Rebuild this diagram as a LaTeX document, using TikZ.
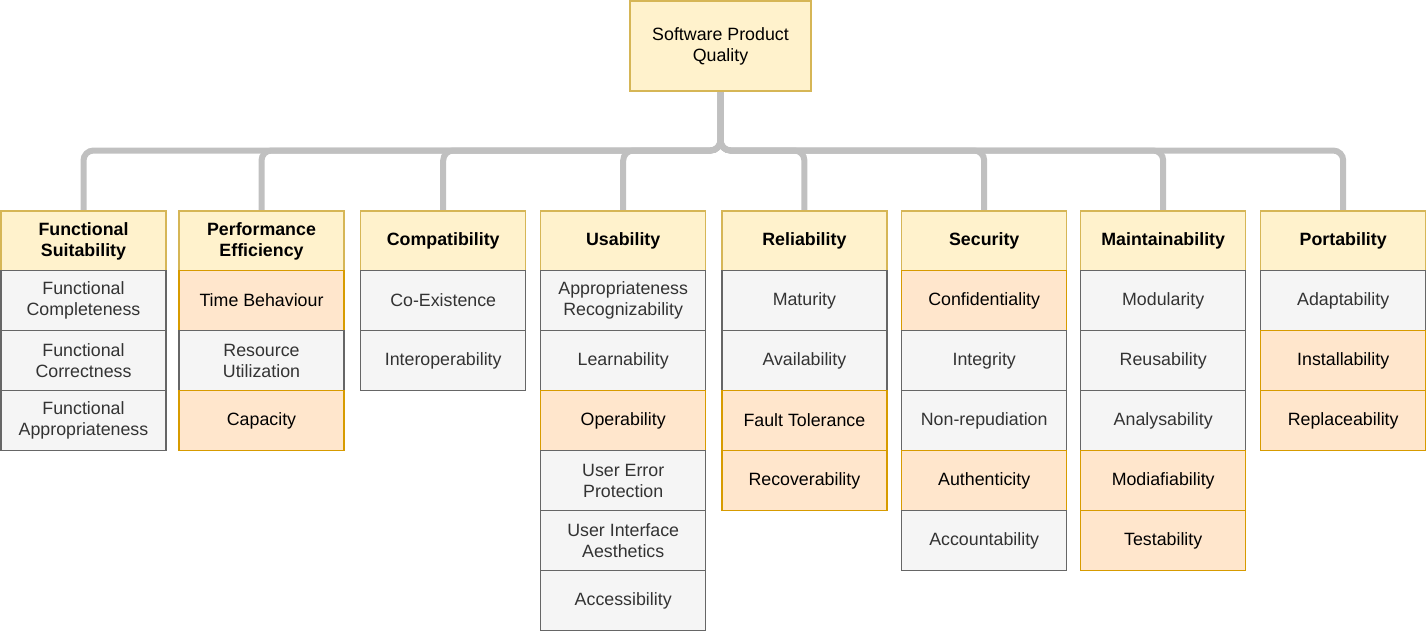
\documentclass[tikz,border=0pt]{standalone}
\usepackage{fontspec}
\setmainfont{Liberation Sans}
\usetikzlibrary{backgrounds}
\definecolor{hdrfill}{HTML}{FFF2CC}
\definecolor{hdrline}{HTML}{D6B656}
\definecolor{gfill}{HTML}{F5F5F5}
\definecolor{gline}{HTML}{666666}
\definecolor{gtext}{HTML}{333333}
\definecolor{ofill}{HTML}{FFE6CC}
\definecolor{oline}{HTML}{D79B00}
\definecolor{conncol}{HTML}{C0C0C0}
\newcommand\qcol[4]{%
  \node[hdrcell] (#1-0) at (#2,241) {#3};
  \begin{pgfonlayer}{background}
    \draw[conn] (top.south) -- (top.south |- 0,150.5) -| (#1-0.north);
  \end{pgfonlayer}
  \foreach [count=\i] \t/\txt in {#4} {
    \node[\t] (#1-\i) at (#2,{240.5+60*\i}) {\txt};
  }%
}
\begin{document}
\begin{tikzpicture}[x=1pt,y=-1pt,
  cell/.style={minimum width=165pt,minimum height=60pt,inner sep=0pt,align=center,line width=1.3pt,font=\fontsize{17.8}{21}\selectfont},
  hdrcell/.style={cell,fill=hdrfill,draw=hdrline,font=\fontsize{17.8}{21}\selectfont\bfseries},
  gcell/.style={cell,fill=gfill,draw=gline,text=gtext},
  ocell/.style={cell,fill=ofill,draw=oline,text=black},
  conn/.style={draw=conncol,line width=6pt,rounded corners=10pt}]
\useasboundingbox (0,0) rectangle (1427,633);
\node[cell,fill=hdrfill,draw=hdrline,minimum width=181pt,minimum height=90pt] (top) at (720.5,46) {Software Product\\Quality};
\qcol{c1}{83.5}{Functional\\Suitability}{gcell/{Functional\\Completeness},gcell/{Functional\\Correctness},gcell/{Functional\\Appropriateness}}
\qcol{c2}{261.5}{Performance\\Efficiency}{ocell/{Time Behaviour},gcell/{Resource\\Utilization},ocell/{Capacity}}
\qcol{c3}{443.2}{Compatibility}{gcell/{Co-Existence},gcell/{Interoperability}}
\qcol{c4}{623.2}{Usability}{gcell/{Appropriateness\\Recognizability},gcell/{Learnability},ocell/{Operability},gcell/{User Error\\Protection},gcell/{User Interface\\Aesthetics},gcell/{Accessibility}}
\qcol{c5}{804.4}{Reliability}{gcell/{Maturity},gcell/{Availability},ocell/{Fault Tolerance},ocell/{Recoverability}}
\qcol{c6}{984.2}{Security}{ocell/{Confidentiality},gcell/{Integrity},gcell/{Non-repudiation},ocell/{Authenticity},gcell/{Accountability}}
\qcol{c7}{1163.2}{Maintainability}{gcell/{Modularity},gcell/{Reusability},gcell/{Analysability},ocell/{Modiafiability},ocell/{Testability}}
\qcol{c8}{1343.2}{Portability}{gcell/{Adaptability},ocell/{Installability},ocell/{Replaceability}}
\end{tikzpicture}
\end{document}
